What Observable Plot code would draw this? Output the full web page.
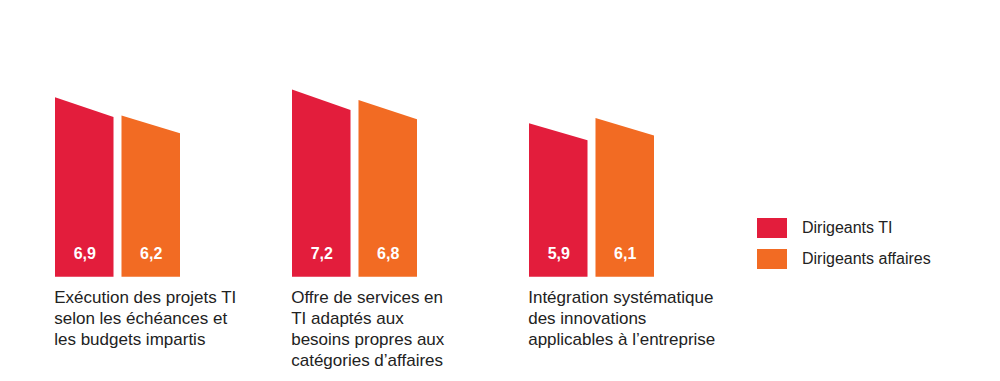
<!DOCTYPE html>
<html>
<head>
<meta charset="utf-8">
<script src="https://cdn.jsdelivr.net/npm/d3@7"></script>
<script src="https://cdn.jsdelivr.net/npm/@observablehq/plot@0.6"></script>
<style>
  html, body { margin: 0; padding: 0; background: #fff; }
  #wrap { position: relative; width: 1000px; height: 381px; font-family: "Liberation Sans", Arial, sans-serif; }
  #legend { position: absolute; left: 757px; top: 218px; font-size: 16px; color: #222; }
  .item { display: flex; align-items: center; height: 19.5px; margin-bottom: 11.5px; }
  .sw { width: 30px; height: 19.5px; margin-right: 15px; }
</style>
</head>
<body>
<div id="wrap"><div id="chart"></div><div id="legend"></div></div>
<script>
const categories = [
  "Exécution des projets TI\nselon les échéances et\nles budgets impartis",
  "Offre de services en\nTI adaptés aux\nbesoins propres aux\ncatégories d’affaires",
  "Intégration systématique\ndes innovations\napplicables à l’entreprise"
];
const series = ["Dirigeants TI", "Dirigeants affaires"];
const valuesTI = [6.9, 7.2, 5.9];
const valuesAffaires = [6.2, 6.8, 6.1];
const colors = ["#e31d3c", "#f26b23"];

const W = 0.88;        // bar width in slot units
const SLANT = 0.89;    // right edge height as share of left edge

const bars = [];
categories.forEach((c, i) => {
  bars.push({category: c, series: series[0], s: 0, value: valuesTI[i]});
  bars.push({category: c, series: series[1], s: 1, value: valuesAffaires[i]});
});
const pts = bars.flatMap((b, k) => [
  {id: k, category: b.category, series: b.series, x: b.s, y: b.value},
  {id: k, category: b.category, series: b.series, x: b.s + W, y: b.value * SLANT}
]);

const chart = Plot.plot({
  width: 1000,
  height: 381,
  marginLeft: 54,
  marginRight: 345.3,
  marginTop: 16.7,
  marginBottom: 104.3,
  style: {fontFamily: "'Liberation Sans', Arial, sans-serif", background: "#fff"},
  fx: {domain: categories, paddingInner: 0.473, paddingOuter: 0, axis: null, label: null},
  x: {domain: [0, 1 + W], axis: null},
  y: {domain: [0, 10], axis: null},
  color: {domain: series, range: colors},
  marks: [
    Plot.areaY(pts, {fx: "category", x: "x", y: "y", z: "id", fill: "series", curve: "linear"}),
    Plot.text(bars, {fx: "category", x: d => d.s + W / 2, y: () => 0, text: d => d.value.toFixed(1).replace(".", ","),
      fill: "white", fontWeight: "bold", fontSize: 16, textAnchor: "middle", lineAnchor: "middle", dy: -23}),
    Plot.text(categories, {fx: d => d, x: () => 0, y: () => 0, text: d => d, textAnchor: "start", lineAnchor: "top",
      fontSize: 17, fill: "#222", dy: 11, dx: -1.3, lineHeight: 1.235})
  ]
});
document.getElementById("chart").appendChild(chart);

const leg = document.getElementById("legend");
series.forEach((s, i) => {
  const it = document.createElement("div");
  it.className = "item";
  it.innerHTML = `<div class="sw" style="background:${colors[i]}"></div><span>${s}</span>`;
  leg.appendChild(it);
});
</script>
</body>
</html>
